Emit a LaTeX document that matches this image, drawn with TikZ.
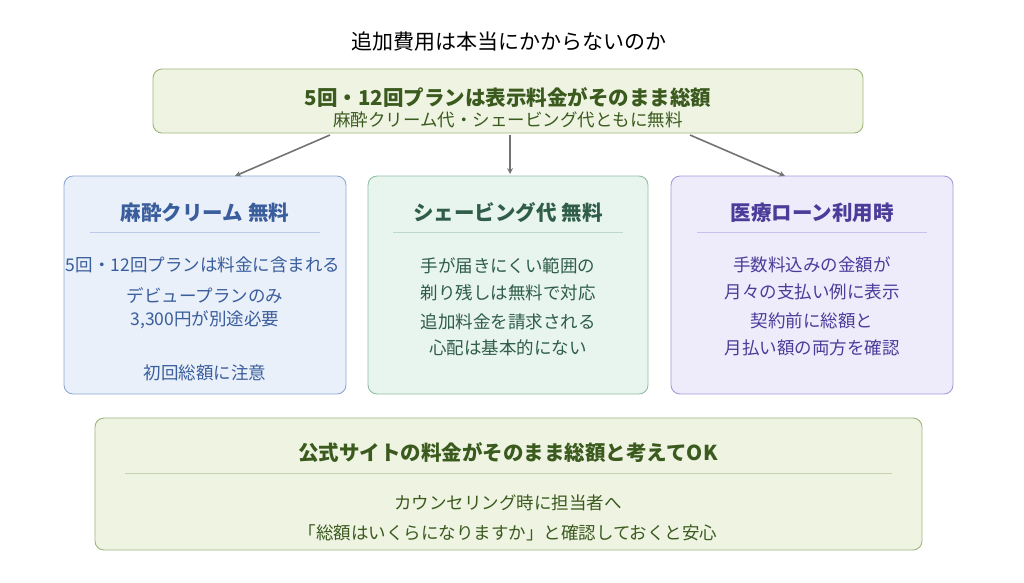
\documentclass[tikz,border=0pt]{standalone}
\usepackage{fontspec}
\setmainfont{Noto Sans CJK JP}
\usetikzlibrary{positioning}
\definecolor{topfill}{HTML}{EEF3E2}
\definecolor{topdraw}{HTML}{9DB57A}
\definecolor{toptext}{HTML}{3B5A1E}
\definecolor{bluefill}{HTML}{E9F0FA}
\definecolor{bluedraw}{HTML}{8DA8D6}
\definecolor{bluetext}{HTML}{3A5D9C}
\definecolor{tealfill}{HTML}{E8F4EE}
\definecolor{tealdraw}{HTML}{8FBFA5}
\definecolor{tealtext}{HTML}{2F5D4A}
\definecolor{purpfill}{HTML}{EEEBFB}
\definecolor{purpdraw}{HTML}{A49BDB}
\definecolor{purptext}{HTML}{4B3C9A}
\begin{document}
\begin{tikzpicture}[x=1pt,y=-1pt]
\tikzset{box/.style={rounded corners=9pt, line width=0.9pt},
  head/.style={font=\fontsize{20.5}{24}\selectfont\bfseries},
  body/.style={font=\fontsize{17.5}{20}\selectfont},
  sep/.style={line width=0.6pt, opacity=0.5},
  arr/.style={->, >=stealth, gray!90!black, line width=1.6pt}}
\useasboundingbox (0,0) rectangle (1024,582);
\node[font=\fontsize{21}{24}\selectfont] (title) at (509,42) {追加費用は本当にかからないのか};
% top box
\draw[box, fill=topfill, draw=topdraw] (153,69) rectangle (863,133);
\node[head, toptext] (toph) at (508,97) {5回・12回プランは表示料金がそのまま総額};
\node[body, toptext] (topb) at (508,120) {麻酔クリーム代・シェービング代ともに無料};
\coordinate (tl) at (330,135); \coordinate (tm) at (510,135); \coordinate (tr) at (690,135);
% three boxes
\draw[box, fill=bluefill, draw=bluedraw] (64,176) rectangle (346,394);
\draw[box, fill=tealfill, draw=tealdraw] (368,176) rectangle (648,394);
\draw[box, fill=purpfill, draw=purpdraw] (671,176) rectangle (953,394);
\coordinate (al) at (235,176); \coordinate (am) at (510,174); \coordinate (ar) at (785,176);
\draw[arr] (tl) -- (al);
\draw[arr] (tm) -- (am);
\draw[arr] (tr) -- (ar);
\node[head, bluetext] (lh) at (205,213) {麻酔クリーム 無料};
\draw[sep, bluedraw] (90,232) -- (320,232);
\node[body, bluetext] (l1) at (203,265) {5回・12回プランは料金に含まれる};
\node[body, bluetext] (l2) at (205,296) {デビュープランのみ};
\node[body, bluetext] (l3) at (205,320) {3,300円が別途必要};
\node[body, bluetext] (l4) at (205,373) {初回総額に注意};
\node[head, tealtext] (mh) at (508,213) {シェービング代 無料};
\draw[sep, tealdraw] (393,232) -- (623,232);
\node[body, tealtext] (m1) at (508,266) {手が届きにくい範囲の};
\node[body, tealtext] (m2) at (508,293) {剃り残しは無料で対応};
\node[body, tealtext] (m3) at (508,322) {追加料金を請求される};
\node[body, tealtext] (m4) at (508,348) {心配は基本的にない};
\node[head, purptext] (rh) at (812,213) {医療ローン利用時};
\draw[sep, purpdraw] (697,232) -- (927,232);
\node[body, purptext] (r1) at (812,265) {手数料込みの金額が};
\node[body, purptext] (r2) at (812,292) {月々の支払い例に表示};
\node[body, purptext] (r3) at (812,321) {契約前に総額と};
\node[body, purptext] (r4) at (812,348) {月払い額の両方を確認};
% bottom box
\draw[box, fill=topfill, draw=topdraw] (95,418) rectangle (922,550);
\node[head, toptext] (bh) at (508,453) {公式サイトの料金がそのまま総額と考えてOK};
\draw[sep, topdraw] (125,473) -- (892,473);
\node[body, toptext] (b1) at (508,503) {カウンセリング時に担当者へ};
\node[body, toptext] (b2) at (508,533) {「総額はいくらになりますか」と確認しておくと安心};
\end{tikzpicture}
\end{document}
